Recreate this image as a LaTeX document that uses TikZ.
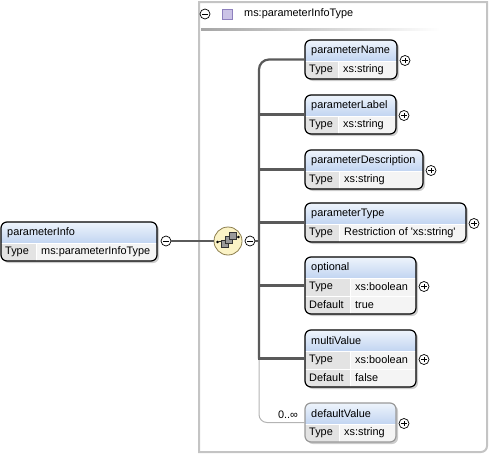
\documentclass[tikz,border=0pt]{standalone}
\usepackage{fontspec}
\setmainfont{Liberation Sans}
\usetikzlibrary{calc}
\definecolor{hdrtop}{HTML}{EEF4FC}
\definecolor{hdrbot}{HTML}{C2D5F1}
\definecolor{rowlab}{HTML}{E3E3E3}
\definecolor{rowval}{HTML}{F4F4F4}
\definecolor{connc}{HTML}{5A5A5A}
\definecolor{optc}{HTML}{B4B4B4}
\definecolor{framec}{HTML}{C4C4C4}
\definecolor{seqfill}{HTML}{FBF3C6}
\definecolor{seqdraw}{HTML}{8C7E4E}
\definecolor{typesq}{HTML}{CBC3E6}
\definecolor{typesqd}{HTML}{8E80BE}
\newcommand\xfont{\fontsize{10.9}{12}\selectfont}

\tikzset{
  txt/.style={anchor=west, inner sep=0pt, font=\xfont},
  conn/.style={draw=connc, line width=2.2pt},
  optconn/.style={draw=optc, line width=1pt},
  expbase/.style={circle, draw=black, fill=white, minimum size=10pt, inner sep=0pt, line width=0.7pt},
  plusc/.style={expbase, path picture={
      \draw[line width=0.7pt] ([xshift=-2.6pt]path picture bounding box.center) -- ([xshift=2.6pt]path picture bounding box.center);
      \draw[line width=0.7pt] ([yshift=-2.6pt]path picture bounding box.center) -- ([yshift=2.6pt]path picture bounding box.center);}},
  minusc/.style={expbase, path picture={
      \draw[line width=0.7pt] ([xshift=-2.6pt]path picture bounding box.center) -- ([xshift=2.6pt]path picture bounding box.center);}},
}

% #1 border colour, #2 id, #3 x,y, #4 width, #5 split, #6 title, #7 rows label/value
\newcommand\xelem[7][black]{%
  \gdef\nrows{0}%
  \foreach \l/\v [count=\i] in {#7}{\xdef\nrows{\i}}%
  \pgfmathsetmacro\hh{21+18*\nrows}%
  \pgfmathsetmacro\vxs{#5+5}%
  \node[anchor=north west, minimum width=#4pt, minimum height=\hh pt, inner sep=0pt, outer sep=0pt] (#2) at (#3) {};
  \fill[black, opacity=0.2, rounded corners=6pt] ([xshift=2pt,yshift=-2pt]#2.north west) rectangle ([xshift=2pt,yshift=-2pt]#2.south east);
  \begin{scope}
    \clip[rounded corners=6pt] (#2.north west) rectangle (#2.south east);
    \fill[rowval] (#2.north west) rectangle (#2.south east);
    \shade[top color=hdrtop, bottom color=hdrbot] (#2.north west) rectangle ([yshift=-21pt]#2.north east);
    \fill[rowlab] ([yshift=-21pt]#2.north west) rectangle ([xshift=#5pt]#2.south west);
    \draw[white, line width=1pt] ([xshift=#5pt,yshift=-21pt]#2.north west) -- ([xshift=#5pt]#2.south west);
    \foreach \l/\v [count=\i] in {#7}{%
      \pgfmathsetmacro\ry{-21-18*(\i-1)}%
      \pgfmathsetmacro\rc{\ry-9}%
      \draw[white, line width=1pt] ([yshift=\ry pt]#2.north west) -- ([yshift=\ry pt]#2.north east);
      \node[txt] (#2-l\i) at ([xshift=4pt, yshift=\rc pt]#2.north west) {\l};
      \node[txt] (#2-v\i) at ([xshift=\vxs pt, yshift=\rc pt]#2.north west) {\v};
    }
  \end{scope}
  \draw[#1, line width=1.2pt, rounded corners=6pt] (#2.north west) rectangle (#2.south east);
  \node[txt] (#2-t) at ([xshift=6pt, yshift=-10.5pt]#2.north west) {#6};
}

\begin{document}
\begin{tikzpicture}[x=1pt, y=-1pt]
\useasboundingbox (0,0) rectangle (490,455);

% container
\draw[framec, line width=2pt] (199,2) -- (487,2) -- (487,446) arc (0:-90:6pt) -- (199,452) -- cycle;
\shade[left color=black!35, right color=white] (201,28) rectangle (440,30);
\node[minusc] (cm) at (205,14) {};
\node[draw=typesqd, fill=typesq, minimum size=10pt, inner sep=0pt, line width=0.6pt] (csq) at (227,14) {};
\node[txt] (ctitle) at (244,14) {ms:parameterInfoType};

% root element
\xelem{pinfo}{1,222}{156}{35}{parameterInfo}{Type/ms:parameterInfoType}
\node[minusc] (m1) at (166,241) {};

% sequence compositor
\node[circle, draw=seqdraw, fill=seqfill, line width=0.8pt, minimum size=28pt, inner sep=0pt] (seq) at (228,241) {};
\draw[line width=0.7pt] (218,242) -- (238,237);
\fill (217.5,242) circle (1.3pt);
\fill (238.5,237) circle (1.3pt);
\foreach \dx/\dy in {0/0,4/-4,8/-8}{
  \draw[fill=black!40, draw=black!80, line width=0.5pt] (221+\dx,240+\dy) rectangle (228+\dx,247+\dy);
}
\node[minusc] (m2) at (250,241) {};
\coordinate (vx) at (259,0);

% children
\xelem{pname}{305,40}{92}{33}{parameterName}{Type/xs:string}
\xelem{plabel}{305,95}{91}{33}{parameterLabel}{Type/xs:string}
\xelem{pdesc}{305,150}{118}{34}{parameterDescription}{Type/xs:string}
\xelem{ptype}{305,203}{161}{34}{parameterType}{Type/Restriction of \textquotesingle xs:string\textquotesingle}
\xelem{popt}{305,257}{111}{45}{optional}{Type/xs:boolean, Default/true}
\xelem{pmv}{305,330}{111}{45}{multiValue}{Type/xs:boolean, Default/false}
\xelem[black!40]{pdv}{305,403}{91}{34}{defaultValue}{Type/xs:string}

% expanders
\foreach \n in {pname,plabel,pdesc,ptype,popt,pmv,pdv}{
  \node[plusc] (\n-x) at ([xshift=8pt,yshift=-1pt]\n.east) {};
}

% connectors
\draw[conn] (m1.east) -- (seq.west);
\draw[conn] (m2.east) -- (vx |- m2);
\draw[optconn, rounded corners=8pt] (vx |- pmv.west) |- (pdv.west);
\draw[conn, line join=miter] (pmv.west) -| (vx |- popt.west);
\draw[conn, rounded corners=10pt] (vx |- pmv.west) |- (pname.west);
\foreach \n in {plabel,pdesc,ptype,popt}{
  \draw[conn] (vx |- \n.west) -- (\n.west);
}
\node[inner sep=0pt, font=\xfont] (card) at (288,415) {0..∞};
\end{tikzpicture}
\end{document}
